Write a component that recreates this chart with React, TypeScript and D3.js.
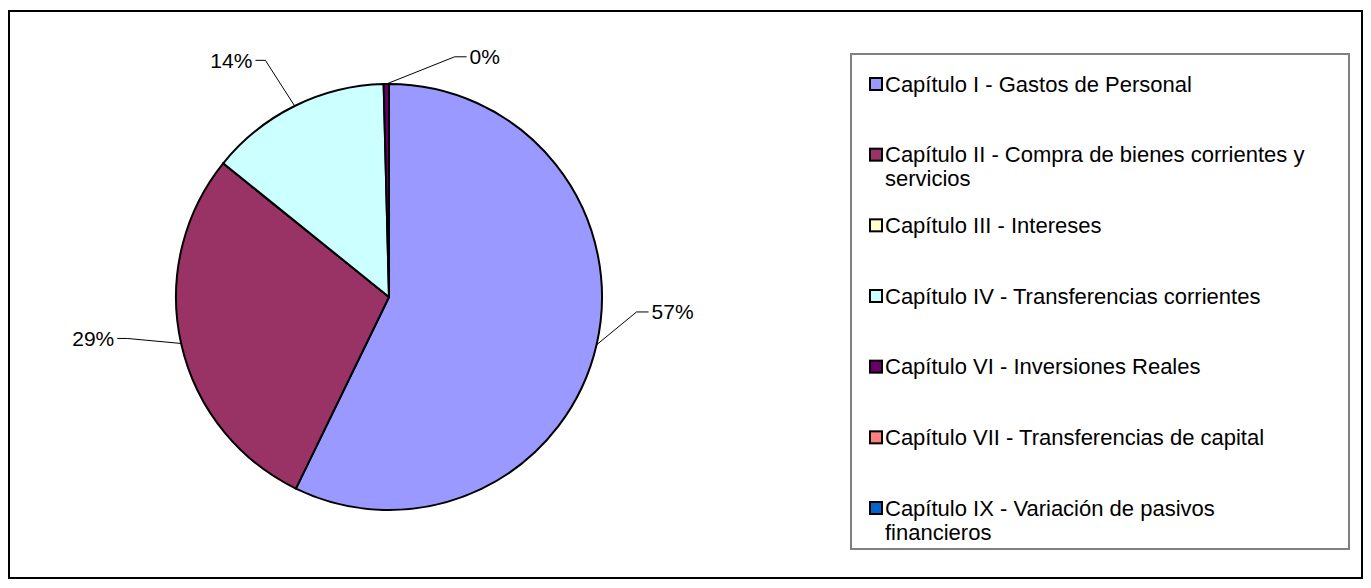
import React from 'react';
import * as d3 from 'd3';

const categories = [
  'Capítulo I - Gastos de Personal',
  'Capítulo II - Compra de bienes corrientes y servicios',
  'Capítulo III - Intereses',
  'Capítulo IV - Transferencias corrientes',
  'Capítulo VI - Inversiones Reales',
  'Capítulo VII - Transferencias de capital',
  'Capítulo IX - Variación de pasivos financieros',
];
const legendLines = [
  ['Capítulo I - Gastos de Personal'],
  ['Capítulo II - Compra de bienes corrientes y', 'servicios'],
  ['Capítulo III - Intereses'],
  ['Capítulo IV - Transferencias corrientes'],
  ['Capítulo VI - Inversiones Reales'],
  ['Capítulo VII - Transferencias de capital'],
  ['Capítulo IX - Variación de pasivos', 'financieros'],
];
const values = [57.2, 28.6, 0, 13.8, 0.4, 0, 0];
const colors = ['#9999FF', '#993366', '#FFFFCC', '#CCFFFF', '#660066', '#FF8080', '#0066CC'];

// label leader layout (angle nudge in degrees, extra radius in px)
const LABEL_LAYOUT: Record<number, [number, number]> = {
  0: [-9.5, 35],
  1: [3.6, 52],
  3: [-1.3, 54],
  4: [16, 36],
};

const W = 1355;
const H = 572;
const FONT = '"Liberation Sans", Arial, sans-serif';

export default function App() {
  const cx = 381, cy = 289, r = 213; // relative to svg origin (body margin 8)
  const total = d3.sum(values);
  const pie = d3.pie<number>().sort(null).value((d) => d).startAngle(0).endAngle(2 * Math.PI);
  const arcs = pie(values);
  const arc = d3.arc<d3.PieArcDatum<number>>().innerRadius(0).outerRadius(r);
  const fmt = d3.format('.0%');

  const legX = 843, legY = 46, legW = 498, legH = 495;
  const itemY = d3.scaleLinear().domain([0, categories.length - 1]).range([legY + 30, legY + 454]);

  return (
    <svg width={W} height={H} style={{ display: 'block' }} fontFamily={FONT}>
      <rect x={1} y={3} width={W - 2} height={H - 5} fill="#fff" stroke="#000" strokeWidth={2} />
      <g transform={`translate(${cx},${cy})`}>
        {arcs.map((a, i) => (
          <path key={i} d={arc(a) || ''} fill={colors[i]} stroke="#000" strokeWidth={2} strokeLinejoin="round" />
        ))}
        {arcs.map((a, i) => {
          if (a.data <= 0) return null;
          const [dA, dR] = LABEL_LAYOUT[i] || [0, 40];
          const mid = (a.startAngle + a.endAngle) / 2;
          const p0 = [r * Math.sin(mid), -r * Math.cos(mid)];
          const ea = mid + (dA * Math.PI) / 180;
          const R = r + dR;
          const e = [R * Math.sin(ea), -R * Math.cos(ea)];
          const right = e[0] > 0;
          const hx = e[0] + (right ? 12 : -10);
          const tx = e[0] + (right ? 15 : -13);
          return (
            <g key={'l' + i}>
              <polyline points={`${p0[0]},${p0[1]} ${e[0]},${e[1]} ${hx},${e[1]}`} fill="none" stroke="#000" strokeWidth={1} />
              <text x={tx} y={e[1]} dy="0.35em" fontSize={21} textAnchor={right ? 'start' : 'end'} fill="#000">
                {fmt(a.data / total)}
              </text>
            </g>
          );
        })}
      </g>
      <rect x={legX} y={legY} width={legW} height={legH} fill="#fff" stroke="#808080" strokeWidth={2} />
      {categories.map((c, i) => {
        const y = itemY(i);
        return (
          <g key={c}>
            <rect x={legX + 19} y={y - 6} width={12} height={12} fill={colors[i]} stroke="#000" strokeWidth={2} />
            <text x={legX + 34} y={y} fontSize={22} fill="#000">
              {legendLines[i].map((ln, j) => (
                <tspan key={j} x={legX + 34} dy={j === 0 ? '0.35em' : 24}>{ln}</tspan>
              ))}
            </text>
          </g>
        );
      })}
    </svg>
  );
}
